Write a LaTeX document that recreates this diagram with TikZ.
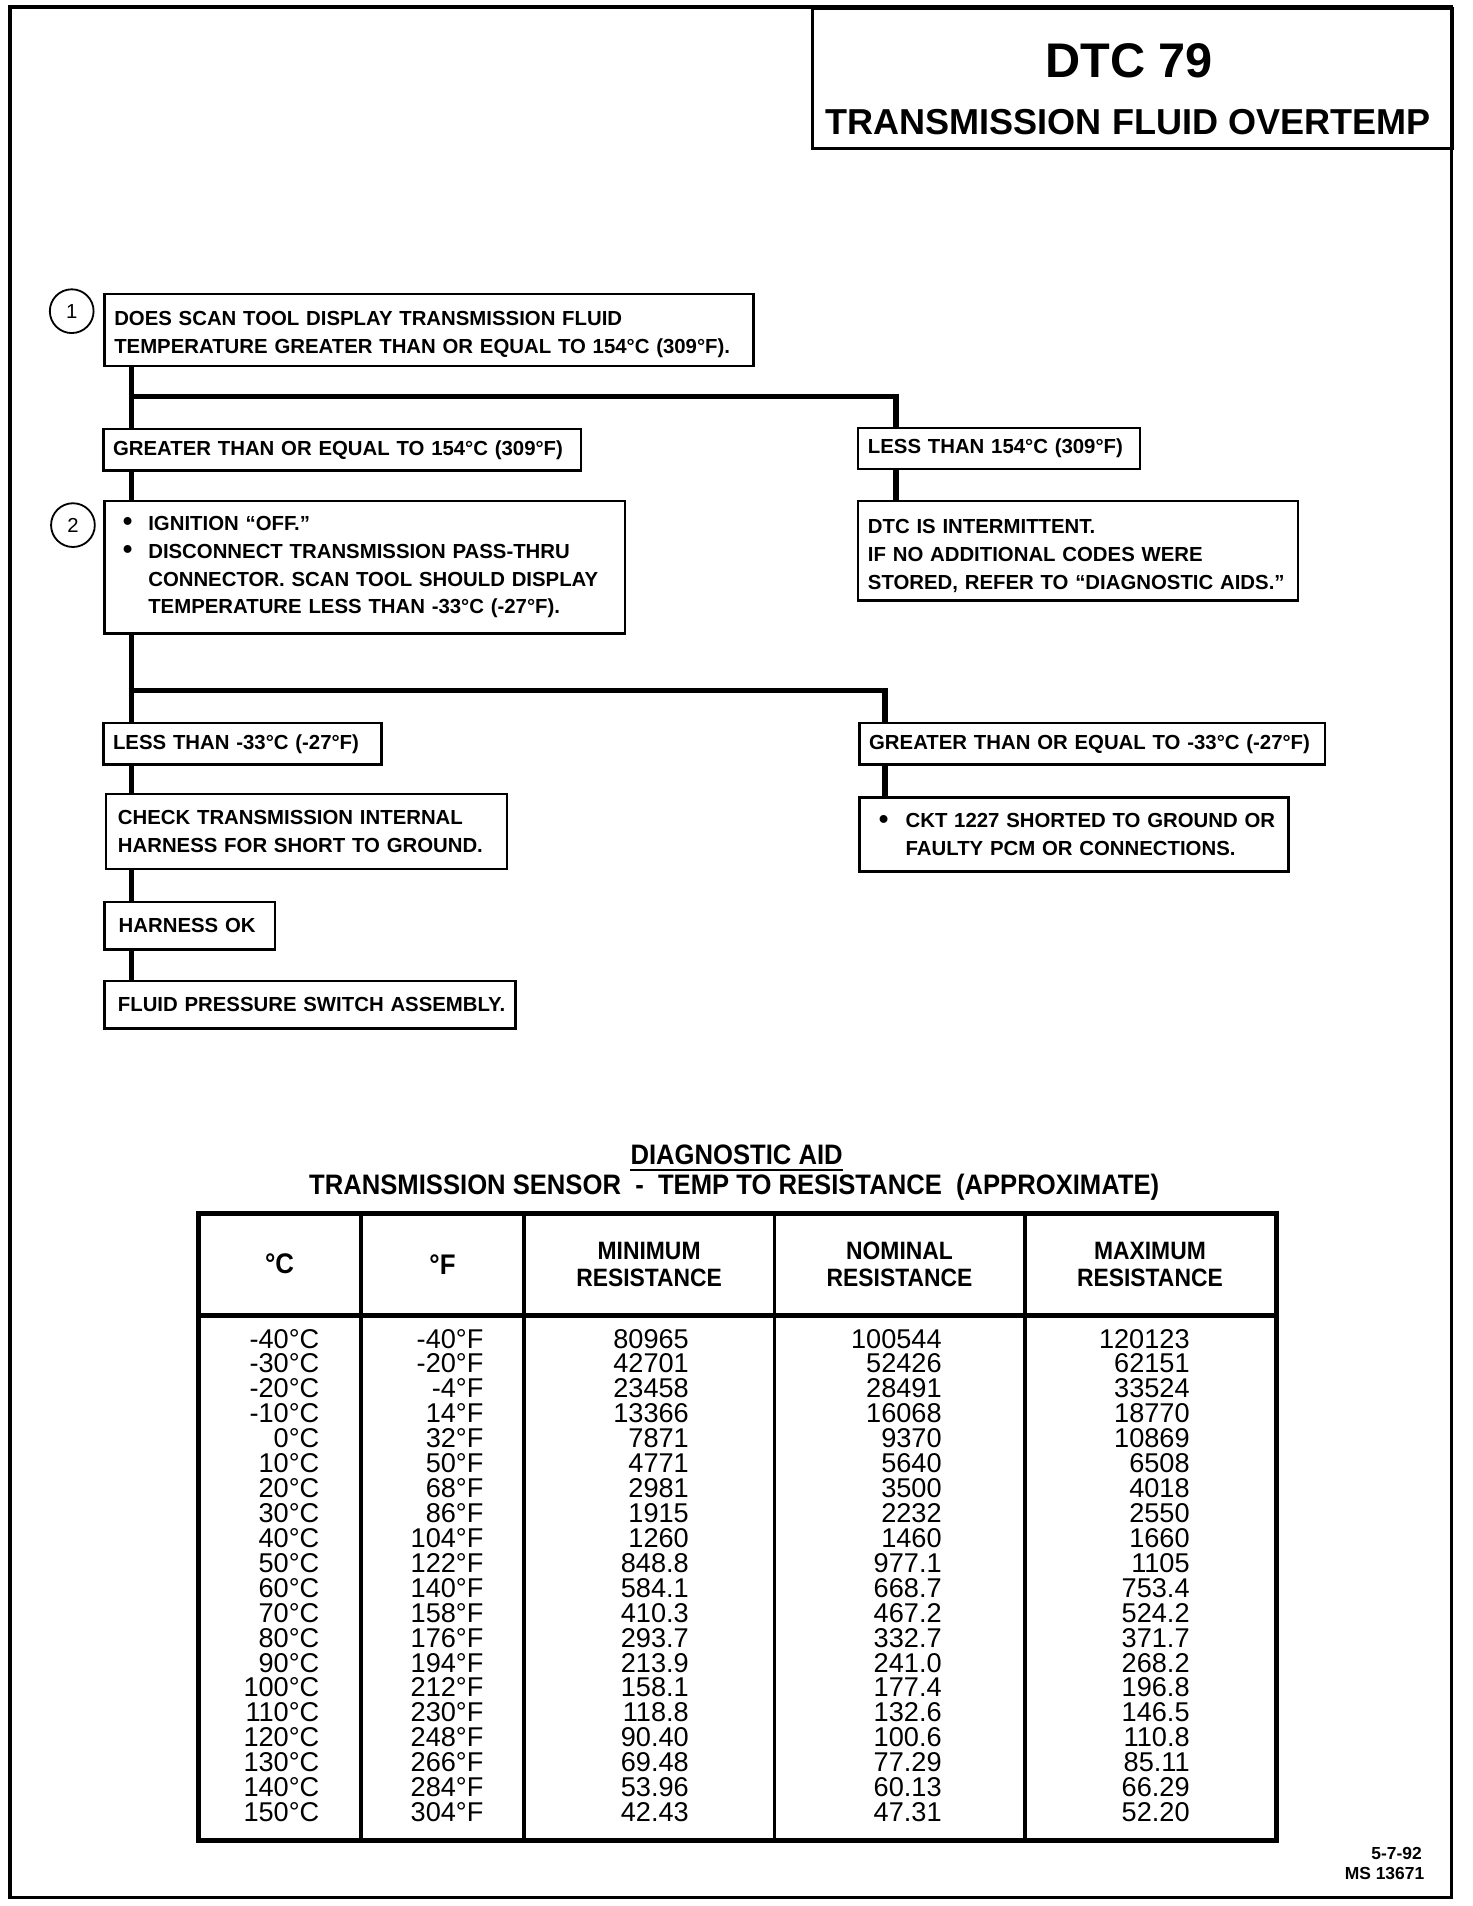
\documentclass[tikz,border=0pt]{standalone}
\usepackage{fontspec}
\usepackage{graphicx}
\setmainfont{Liberation Sans}
\newfontfamily\condfamily[FakeStretch=0.91]{Liberation Sans}
\newcommand\boxfont{\fontsize{10.05pt}{13.8pt}\selectfont\bfseries}
\newcommand\titlefont{\fontsize{17.8pt}{20pt}\selectfont\bfseries}
\newcommand\dtcfont{\fontsize{24pt}{28pt}\selectfont\bfseries}
\newcommand\numfont{\fontsize{10pt}{11pt}\selectfont}
\newcommand\aidfont{\condfamily\fontsize{13.9pt}{15pt}\selectfont\bfseries}
\newcommand\hdrfont{\condfamily\fontsize{12.4pt}{13.2pt}\selectfont\bfseries}
\newcommand\cellfont{\fontsize{13.4pt}{14pt}\selectfont}
\newcommand\footfont{\fontsize{8.6pt}{10pt}\selectfont\bfseries}
\newcommand\bul[1]{\makebox[#1][l]{\raisebox{-0.4pt}{\scalebox{1.35}{\textbullet}}}}
\begin{document}
\begin{tikzpicture}[x=0.6pt,y=-0.6pt,
  frame/.style={line width=1.8pt},
  box/.style={draw, line width=1.2pt, anchor=north west, inner xsep=4.8pt, inner ysep=0pt, align=left, fill=white, font=\boxfont},
  conn/.style={line width=2.7pt},
  numc/.style={circle, draw, line width=0.9pt, minimum size=21.6pt, inner sep=0pt, font=\numfont},
  cell/.style={anchor=base east, inner sep=0pt, font=\cellfont},
  hdr/.style={align=center, inner sep=0pt, font=\hdrfont},
  tline/.style={line width=1.8pt},
  touter/.style={line width=2.4pt}]
\useasboundingbox (0,0) rectangle (1211,1568);
% outer frame
\draw[frame] (8,6) rectangle (1194,1561);
% title
\node[draw, line width=1.5pt, anchor=north west, minimum width=316.2pt, minimum height=69pt, inner sep=0pt] (tbox) at (667,6) {};
\node[anchor=base, inner sep=0pt, font=\dtcfont] (dtc) at (929,64) {DTC 79};
\node[anchor=base, inner sep=0pt, font=\titlefont] (ttl) at (928,111) {TRANSMISSION FLUID OVERTEMP};
% step numbers
\node[numc] (n1) at (59,256) {1};
\node[numc] (n2) at (60,432) {2};
% boxes
\node[box, minimum width=320.4pt, minimum height=35.4pt, text width=310.8pt] (b1) at (85,241)
  {\mbox{\rule{0pt}{11pt}DOES SCAN TOOL DISPLAY TRANSMISSION FLUID}\\\mbox{TEMPERATURE GREATER THAN OR EQUAL TO 154°C (309°F).}};
\node[box, minimum width=235.8pt, minimum height=20.4pt, text width=226.2pt] (g1) at (84,352)
  {\mbox{GREATER THAN OR EQUAL TO 154°C (309°F)}};
\node[box, minimum width=139.2pt, minimum height=20.4pt, text width=129.6pt] (l1) at (705,351)
  {\mbox{LESS THAN 154°C (309°F)}};
\node[box, minimum width=217.2pt, minimum height=49.2pt, text width=207.6pt] (dtcint) at (705,411)
  {\mbox{\rule{0pt}{12pt}DTC IS INTERMITTENT.}\\\mbox{IF NO ADDITIONAL CODES WERE}\\\mbox{STORED, REFER TO “DIAGNOSTIC AIDS.”}};
\node[box, inner xsep=9pt, minimum width=256.8pt, minimum height=65.4pt, text width=238.8pt] (b2) at (85,411)
  {\mbox{\bul{12.6pt}IGNITION “OFF.”}\\\mbox{\bul{12.6pt}DISCONNECT TRANSMISSION PASS-THRU}\\\mbox{\hspace*{12.6pt}CONNECTOR. SCAN TOOL SHOULD DISPLAY}\\\mbox{\hspace*{12.6pt}TEMPERATURE LESS THAN -33°C (-27°F).}};
\node[box, minimum width=137.4pt, minimum height=20.4pt, text width=127.8pt] (l33) at (84,594)
  {\mbox{LESS THAN -33°C (-27°F)}};
\node[box, minimum width=229.8pt, minimum height=20.4pt, text width=220.2pt] (g33) at (706,594)
  {\mbox{GREATER THAN OR EQUAL TO -33°C (-27°F)}};
\node[box, inner xsep=9.6pt, minimum width=211.8pt, minimum height=36.6pt, text width=192.6pt] (ckt) at (706,655)
  {\mbox{\bul{13.2pt}CKT 1227 SHORTED TO GROUND OR}\\\mbox{\hspace*{13.2pt}FAULTY PCM OR CONNECTIONS.}};
\node[box, inner xsep=6pt, minimum width=198pt, minimum height=37.2pt, text width=186pt] (chk) at (86,652)
  {\mbox{CHECK TRANSMISSION INTERNAL}\\\mbox{HARNESS FOR SHORT TO GROUND.}};
\node[box, inner xsep=7pt, minimum width=84pt, minimum height=23.4pt, text width=70pt] (hok) at (85,741)
  {\mbox{HARNESS OK}};
\node[box, inner xsep=6.6pt, minimum width=202.8pt, minimum height=23.4pt, text width=189.6pt] (fps) at (85,806)
  {\mbox{FLUID PRESSURE SWITCH ASSEMBLY.}};
% connectors
\coordinate (s1) at (108,326);
\coordinate (s1r) at (737,326);
\coordinate (s2) at (108,568);
\coordinate (s2r) at (728,568);
\draw[conn] (b1.south -| s1) -- (g1.north -| s1);
\draw[conn, line join=miter] ([xshift=-1.35pt]s1) -- (s1r) -- (l1.north -| s1r);
\draw[conn] (l1.south -| s1r) -- (dtcint.north -| s1r);
\draw[conn] (g1.south -| s1) -- (b2.north -| s1);
\draw[conn] (b2.south -| s2) -- (l33.north -| s2);
\draw[conn, line join=miter] ([xshift=-1.35pt]s2) -- (s2r) -- (g33.north -| s2r);
\draw[conn] (g33.south -| s2r) -- (ckt.north -| s2r);
\draw[conn] (l33.south -| s2) -- (chk.north -| s2);
\draw[conn] (chk.south -| s2) -- (hok.north -| s2);
\draw[conn] (hok.south -| s2) -- (fps.north -| s2);
% diagnostic aid
\node[anchor=base, inner sep=0pt, font=\aidfont] (aid) at (606,958) {DIAGNOSTIC AID};
\draw[line width=1pt] ([yshift=-2.6pt]aid.base west) -- ([yshift=-2.6pt]aid.base east);
\node[anchor=base, inner sep=0pt, font=\aidfont] (aid2) at (604,983) {TRANSMISSION SENSOR \ - \ TEMP TO RESISTANCE \ (APPROXIMATE)};
% table
\draw[touter] (163,998) rectangle (1050,1514);
\draw[touter] (163,1082) -- (1050,1082);
\foreach \x in {297,431,637,843} \draw[tline] (\x,998) -- (\x,1514);
\node[hdr, font=\condfamily\fontsize{14pt}{14pt}\selectfont\bfseries] (h1) at (230,1040) {°C};
\node[hdr, font=\condfamily\fontsize{14pt}{14pt}\selectfont\bfseries] (h2) at (364,1040) {°F};
\node[hdr] (h3) at (534,1040) {MINIMUM\\RESISTANCE};
\node[hdr] (h4) at (740,1040) {NOMINAL\\RESISTANCE};
\node[hdr] (h5) at (946,1040) {MAXIMUM\\RESISTANCE};
\foreach \a/\b/\c/\d/\e [count=\i] in {
 -40°C/-40°F/80965/100544/120123,
 -30°C/-20°F/42701/52426/62151,
 -20°C/-4°F/23458/28491/33524,
 -10°C/14°F/13366/16068/18770,
 0°C/32°F/7871/9370/10869,
 10°C/50°F/4771/5640/6508,
 20°C/68°F/2981/3500/4018,
 30°C/86°F/1915/2232/2550,
 40°C/104°F/1260/1460/1660,
 50°C/122°F/848.8/977.1/1105,
 60°C/140°F/584.1/668.7/753.4,
 70°C/158°F/410.3/467.2/524.2,
 80°C/176°F/293.7/332.7/371.7,
 90°C/194°F/213.9/241.0/268.2,
 100°C/212°F/158.1/177.4/196.8,
 110°C/230°F/118.8/132.6/146.5,
 120°C/248°F/90.40/100.6/110.8,
 130°C/266°F/69.48/77.29/85.11,
 140°C/284°F/53.96/60.13/66.29,
 150°C/304°F/42.43/47.31/52.20}{
  \pgfmathsetmacro\yy{1109+20.5*(\i-1)}
  \node[cell] (ca\i) at (263,\yy) {\a};
  \node[cell] (cb\i) at (398,\yy) {\b};
  \node[cell] (cc\i) at (567,\yy) {\c};
  \node[cell] (cd\i) at (775,\yy) {\d};
  \node[cell] (ce\i) at (979,\yy) {\e};
}
% footer
\node[anchor=base east, inner sep=0pt, font=\footfont] (f1) at (1170,1530) {5-7-92};
\node[anchor=base east, inner sep=0pt, font=\footfont] (f2) at (1172,1546) {MS 13671};
\end{tikzpicture}
\end{document}
